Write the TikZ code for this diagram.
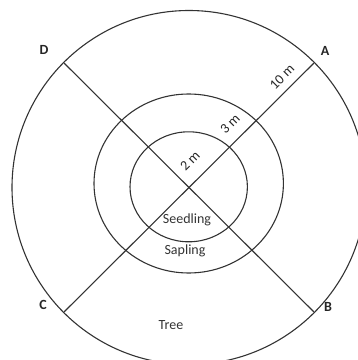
\documentclass[tikz,border=0pt]{standalone}
\usepackage{fontspec}
\setmainfont{Carlito}
\usetikzlibrary{positioning}
\tikzset{
    ring/.style={line width=1.1pt, draw=black!80},
    cornerlabel/.style={font=\fontsize{14}{16}\selectfont\bfseries, text=black!85, inner sep=0pt},
    zonelabel/.style={font=\fontsize{14}{16}\selectfont, text=black!80, inner sep=0pt},
    distlabel/.style={font=\fontsize{14}{16}\selectfont, text=black!85, inner sep=0pt, rotate=45}
}

\begin{document}
\begin{tikzpicture}[x=1pt, y=1pt]
        \useasboundingbox (0,0) rectangle (358,360);
        \clip (0,0) rectangle (358,360);

        % ---------------- plot centre and diagonal ends ----------------
        \coordinate (plotO) at (189,172.5);
        \coordinate (ptA) at (314,297);
        \coordinate (ptB) at (314,48);
        \coordinate (ptC) at (64,48);
        \coordinate (ptD) at (64,297);

        % ---------------- rings ----------------
        % Tree zone (outer)
        \draw[ring] (plotO) circle (177);
        % Sapling zone
        \draw[ring] (188.7,176.5) ellipse [x radius=94.7, y radius=89.5];
        % Seedling zone
        \draw[ring] (188.7,173.2) ellipse [x radius=58.7, y radius=55];

        % ---------------- diagonals ----------------
        \draw[ring] (ptA)--(ptC);
        \draw[ring] (ptD)--(ptB);

        % Corner letters
        \node[cornerlabel] (labA) at (325,309) {A};
        \node[cornerlabel] (labB) at (328,53) {B};
        \node[cornerlabel] (labC) at (43,55) {C};
        \node[cornerlabel] (labD) at (44,310) {D};

        % Radii along A
        \node[distlabel] (distTen) at (282,283) {10 m};
        \node[distlabel] (distThree) at (230,236) {3 m};
        \node[distlabel] (distTwo) at (190,199) {2 m};

        % Zone names
        \node[zonelabel] (zSeedling) at (187,140) {Seedling};
        \node[zonelabel] (zSapling) at (185,109) {Sapling};
        \node[zonelabel] (zTree) at (171,35) {Tree};
    \end{tikzpicture}
\end{document}
